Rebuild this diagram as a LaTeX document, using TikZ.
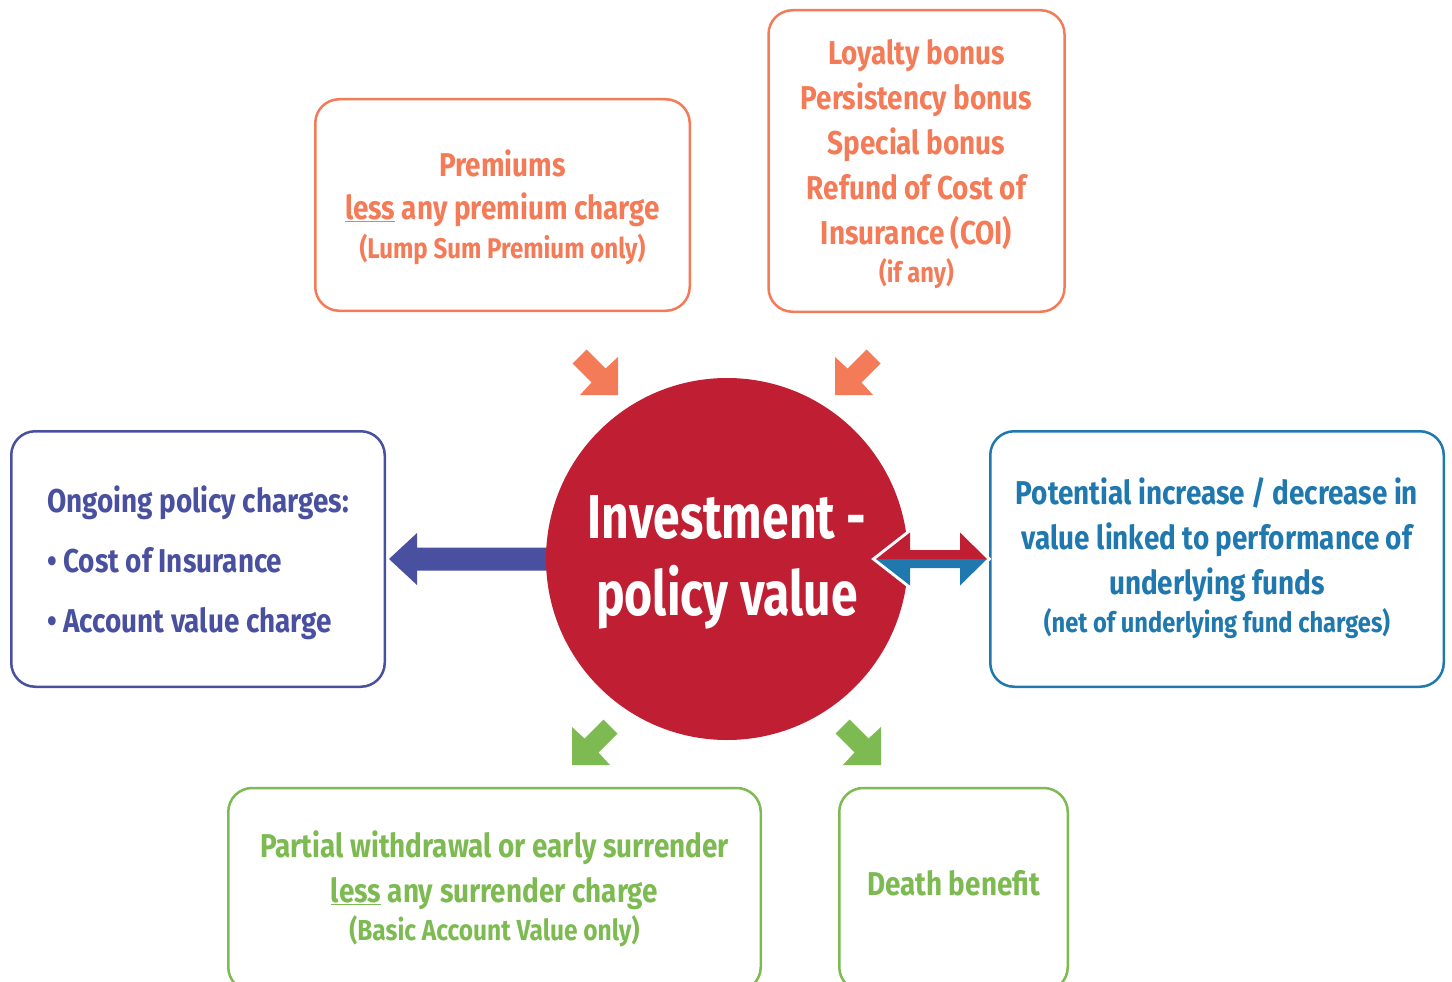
\documentclass[tikz,border=0pt]{standalone}
\usepackage{fontspec}
\setmainfont{Fira Sans}[UprightFont=* Bold, BoldFont=* Bold, FakeStretch=0.845]
\newfontfamily\circfont{Fira Sans}[UprightFont=* Bold, FakeStretch=0.775]
\usetikzlibrary{calc}
\definecolor{corange}{HTML}{F47B57}
\definecolor{cred}{HTML}{C01F33}
\definecolor{cpurple}{HTML}{4A50A0}
\definecolor{cblue}{HTML}{1F78AE}
\definecolor{cgreen}{HTML}{7DBB52}
\newcommand{\fatarr}[5]{%
  \fill[#5, shift={(#1,#2)}, xscale=#3, yscale=#4]
    (-45.5,-31.5) -- (-31.5,-45.5) -- (-12.5,-26.5) -- (0,-38) -- (0,0) -- (-38,0) -- (-26.5,-12.5) -- cycle;}
\begin{document}
\begin{tikzpicture}[x=1pt,y=-1pt,
  box/.style={draw, rounded corners=24pt, line width=2.5pt, inner sep=0pt},
  txt/.style={align=center, inner sep=0pt},
  big/.style={font=\fontsize{33}{45}\selectfont},
  ]
\useasboundingbox (0,0) rectangle (1452,982);
\clip (0,0) rectangle (1452,982);

% boxes
\node[box, draw=corange, minimum width=374.5pt, minimum height=211.5pt] (prem) at (502.5,205) {};
\node[box, draw=corange, minimum width=296pt, minimum height=301.5pt] (loyal) at (916.5,161) {};
\node[box, draw=cpurple, minimum width=373.5pt, minimum height=255.5pt] (ong) at (198,559) {};
\node[box, draw=cblue, minimum width=453.5pt, minimum height=255.5pt] (pot) at (1217,559) {};
\node[box, draw=cgreen, minimum width=532.5pt, minimum height=203pt] (part) at (494.5,889.5) {};
\node[box, draw=cgreen, minimum width=228.5pt, minimum height=203pt] (death) at (953.5,889.5) {};

% texts
\node[txt, text=corange, font=\fontsize{33}{43}\selectfont] (premT) at (502.5,207)
  {Premiums\\\underline{less} any premium charge\\[-4pt]{\fontsize{28.5}{36}\selectfont (Lump Sum Premium only)}};
\node[txt, text=corange, big] (loyalT) at (916.5,164.5)
  {Loyalty bonus\\Persistency bonus\\Special bonus\\Refund of Cost of\\Insurance (COI)\\[-7pt]{\fontsize{28}{36}\selectfont (if any)}};
\node[txt, align=left, text=cpurple, font=\fontsize{33}{60}\selectfont] (ongT) at (198,563)
  {Ongoing policy charges:\\\textbullet\ Cost of Insurance\\\textbullet\ Account value charge};
\node[txt, text=cblue, big] (potT) at (1217,558)
  {Potential increase / decrease in\\value linked to performance of\\underlying funds\\[-7pt]{\fontsize{28}{36}\selectfont (net of underlying fund charges)}};
\node[txt, text=cgreen, big] (partT) at (494.5,889)
  {Partial withdrawal or early surrender\\\underline{less} any surrender charge\\[-7pt]{\fontsize{29}{36}\selectfont (Basic Account Value only)}};
\node[txt, text=cgreen, big] (deathT) at (953.5,883) {Death benefit};

% left arrow (to ongoing charges)
\fill[cpurple, shift={(ong.east)}] (3,0) -- (31,-26) -- (31,-11.5) -- (220,-11.5) -- (220,11.5) -- (31,11.5) -- (31,26) -- cycle;

% circle
\node[circle, fill=cred, minimum size=362pt, inner sep=0pt] (circ) at (727,559) {};
\node[txt, text=white, font=\circfont\fontsize{62}{77}\selectfont] (circT) at (727,562) {Investment -\\policy value};

% double arrow
\begin{scope}[shift={(pot.west)}]
  \draw[white, line width=6pt, line join=miter] (-113,0) -- (-79,-26.5) -- (-79,-9) -- (-29,-9) -- (-29,-26.5) -- (-2,0) -- (-29,26.5) -- (-29,9) -- (-79,9) -- (-79,26.5) -- cycle;
  \fill[cred] (-113,0) -- (-79,-26.5) -- (-79,-9) -- (-29,-9) -- (-29,-26.5) -- (-2,0) -- cycle;
  \fill[cblue] (-113,0) -- (-79,26.5) -- (-79,9) -- (-29,9) -- (-29,26.5) -- (-2,0) -- cycle;
\end{scope}

% small fat arrows
\fatarr{618}{395}{1}{1}{corange}
\fatarr{835}{395}{-1}{1}{corange}
\fatarr{572}{765}{-1}{1}{cgreen}
\fatarr{881}{765}{1}{1}{cgreen}
\end{tikzpicture}
\end{document}
